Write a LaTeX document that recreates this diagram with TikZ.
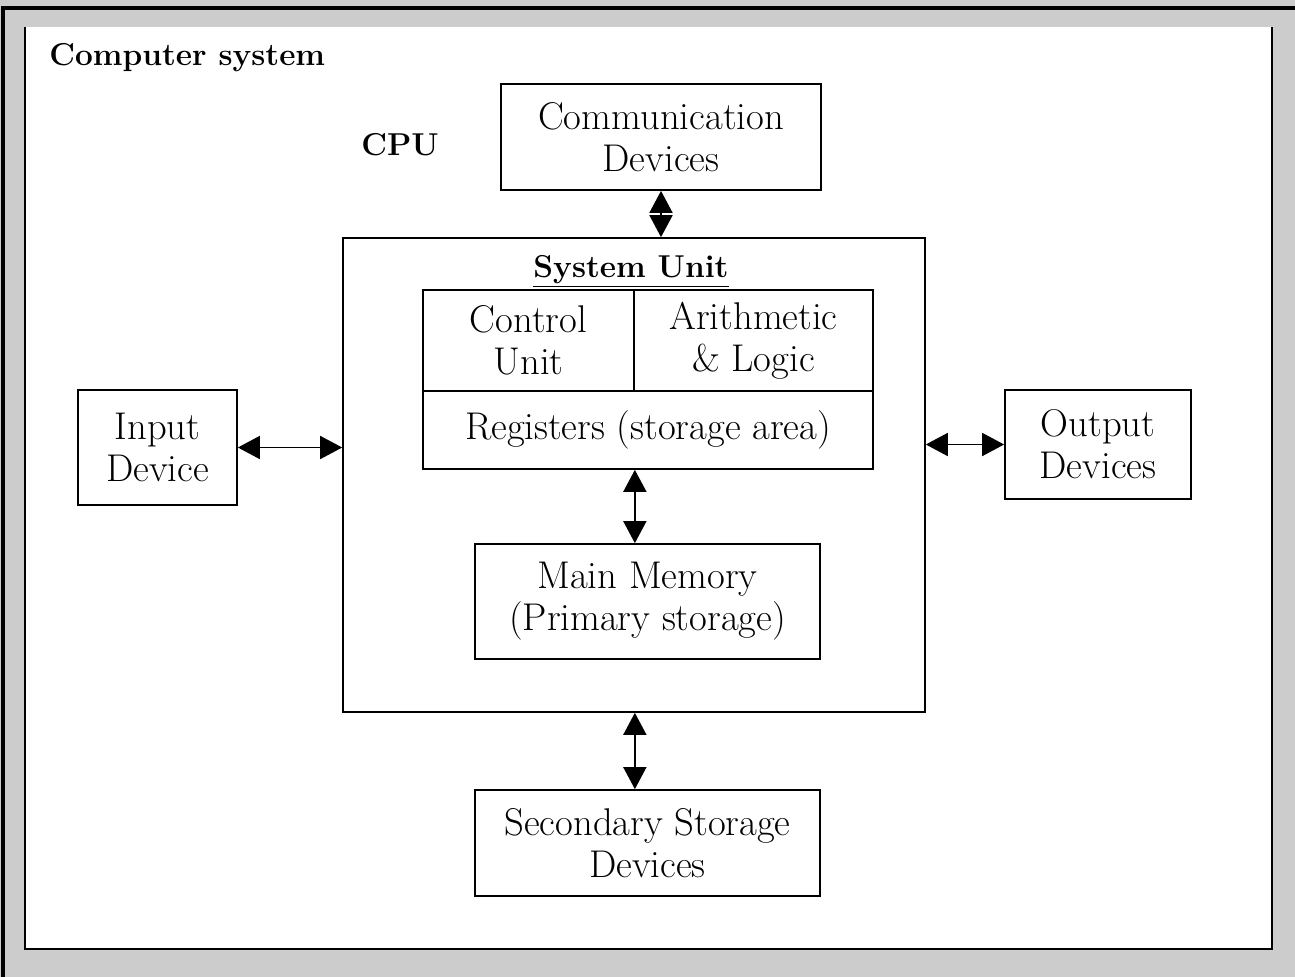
\documentclass[tikz,border=0pt]{standalone}
\usepackage{tikz}
\usetikzlibrary{arrows.meta}

\definecolor{framegray}{HTML}{CCCCCC}

\tikzset{
    unitbox/.style={draw, line width=1pt, inner sep=0pt, align=center,
        font=\fontsize{22}{24}\selectfont},
    headlabel/.style={font=\fontsize{18}{22}\selectfont\bfseries, inner sep=0pt},
    biarrow/.style={line width=1pt,
        {Triangle[length=4.4mm,width=4.6mm]}-{Triangle[length=4.4mm,width=4.6mm]}}
}

\begin{document}
\begin{tikzpicture}[x=0.02cm,y=-0.02cm]
    % Define coordinates for the page frame
    \coordinate (P1) at (0,0);
    \coordinate (P2) at (1295,977);
    \coordinate (W1) at (25,27);
    \coordinate (W2) at (1272,949);

    % Draw the grey page and the white sheet
    \fill[framegray] (P1) rectangle (P2);
    \useasboundingbox (P1) rectangle (P2);
    \draw[line width=2pt] (3,977) -- (3,8) -- (1295,8);
    \fill[white] (W1) rectangle (W2);
    \draw[line width=1.2pt] (W1) -- (W1 |- W2) -- (W2) -- (W2 |- W1);

    % Labels for the headings
    \node[headlabel, anchor=west] (title) at (49,58) {Computer system};
    \node[headlabel] (cpu) at (400,145) {CPU};

    % Draw the system unit and its parts
    \node[unitbox, minimum width=11.64cm, minimum height=9.48cm] (sysunit) at (634,475) {};
    \node[headlabel] (sulabel) at (631,271) {\underline{System Unit}};
    \node[unitbox, minimum width=4.22cm, minimum height=2.02cm] (cu) at (528.5,340.5) {Control\\Unit};
    \node[unitbox, minimum width=4.78cm, minimum height=2.02cm] (alu) at (753.5,340.5) {Arithmetic\\\& Logic};
    \node[unitbox, minimum width=9cm, minimum height=1.56cm] (reg) at (648,430) {Registers (storage area)};
    \node[unitbox, minimum width=6.9cm, minimum height=2.3cm] (mem) at (647.5,601.5) {Main Memory\\(Primary storage)};

    % Draw the devices round the system unit
    \node[unitbox, minimum width=6.4cm, minimum height=2.12cm] (comm) at (661,137) {Communication\\Devices};
    \node[unitbox, minimum width=3.18cm, minimum height=2.3cm] (input) at (157.5,447.5) {Input\\Device};
    \node[unitbox, minimum width=3.72cm, minimum height=2.18cm] (output) at (1098,444.5) {Output\\Devices};
    \node[unitbox, minimum width=6.9cm, minimum height=2.12cm] (sec) at (647.5,843) {Secondary Storage\\Devices};

    % Two-way arrows between the units
    \draw[biarrow] (comm.south) -- (comm.south |- sysunit.north);
    \draw[biarrow] (input.east) -- (input.east -| sysunit.west);
    \draw[biarrow] (sysunit.east |- output.west) -- (output.west);
    \draw[biarrow] (reg.south -| cu.south east) -- (cu.south east |- mem.north);
    \draw[biarrow] (sysunit.south -| cu.south east) -- (cu.south east |- sec.north);
\end{tikzpicture}
\end{document}
